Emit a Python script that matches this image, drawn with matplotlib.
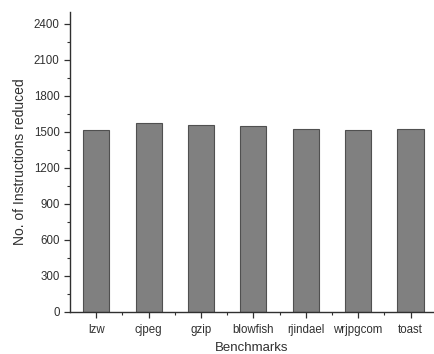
import matplotlib
matplotlib.use("Agg")
import matplotlib.pyplot as plt
from matplotlib.ticker import MultipleLocator, FixedLocator

benchmarks = ["lzw", "cjpeg", "gzip", "blowfish", "rjindael", "wrjpgcom", "toast"]
reduced = [1514, 1570, 1558, 1548, 1523, 1514, 1523]

plt.rcParams["font.family"] = ["Liberation Sans", "DejaVu Sans"]

fig = plt.figure(figsize=(4.35, 3.54), dpi=100)
ax = fig.add_axes([0.161, 0.1195, 0.837, 0.8475])

x = range(len(benchmarks))
ax.bar(x, reduced, width=0.5, color="#808080", edgecolor="#505050", linewidth=0.8)

ax.set_xlim(-0.5, 6.45)
ax.set_ylim(0, 2500)
ax.yaxis.set_major_locator(MultipleLocator(300))
ax.yaxis.set_minor_locator(MultipleLocator(150))
ax.set_yticks(range(0, 2401, 300))
ax.set_xticks(list(x))
ax.set_xticklabels(benchmarks)
ax.xaxis.set_minor_locator(FixedLocator([i + 0.5 for i in range(len(benchmarks) - 1)]))

for s in ("top", "right"):
    ax.spines[s].set_visible(False)
for s in ("left", "bottom"):
    ax.spines[s].set_color("#303030")
    ax.spines[s].set_linewidth(1.0)

ax.tick_params(axis="both", which="major", direction="out", length=4, width=0.9,
               labelsize=8.3, colors="#303030", labelcolor="#303030")
ax.tick_params(axis="both", which="minor", direction="out", length=2.5, width=0.8,
               colors="#303030")
ax.tick_params(axis="x", pad=5)

ax.set_xlabel("Benchmarks", fontsize=9.5, color="#303030", labelpad=4)
ax.set_ylabel("No. of Instructions reduced", fontsize=10, color="#303030", labelpad=5)

fig.savefig("out.png", dpi=100)
